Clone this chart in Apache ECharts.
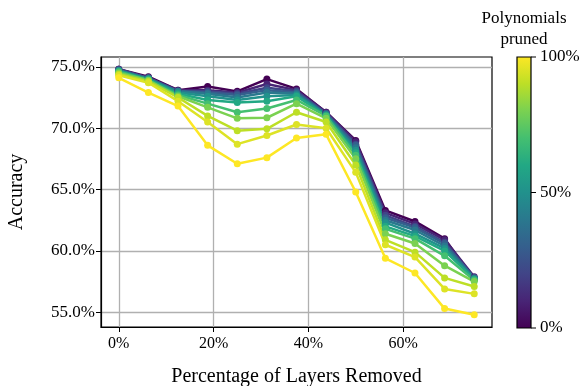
<!DOCTYPE html>
<html>
<head>
<meta charset="utf-8">
<script src="https://cdn.jsdelivr.net/npm/echarts@6/dist/echarts.min.js"></script>
<style>
  html, body { margin: 0; padding: 0; background: #fff; }
  #chart { width: 588px; height: 386px; }
</style>
</head>
<body>
<div id="chart"></div>
<script>
// percentage of layers removed
const layersRemoved = [0, 6.25, 12.5, 18.75, 25, 31.25, 37.5, 43.75, 50, 56.25, 62.5, 68.75, 75]

// fraction of polynomials pruned for each line
const prunedLevels = [0, 0.1, 0.2, 0.3, 0.4, 0.5, 0.6, 0.7, 0.8, 0.9, 0.95, 1.0]

// accuracy (%) per pruning level
const acc0   = [74.8, 74.2, 73.1, 73.4, 73.0, 74.0, 73.2, 71.3, 69.0, 63.3, 62.4, 61.0, 57.7]
const acc10  = [74.8, 74.1, 73.1, 73.1, 72.9, 73.6, 73.1, 71.3, 68.9, 63.1, 62.2, 60.9, 57.9]
const acc20  = [74.8, 74.1, 73.0, 73.0, 72.8, 73.3, 73.0, 71.2, 68.7, 62.9, 62.0, 60.7, 57.8]
const acc30  = [74.7, 74.1, 73.0, 72.9, 72.7, 73.1, 72.9, 71.2, 68.6, 62.7, 61.9, 60.6, 57.8]
const acc40  = [74.7, 74.0, 73.0, 72.8, 72.5, 72.9, 72.8, 71.1, 68.4, 62.5, 61.7, 60.4, 57.8]
const acc50  = [74.7, 74.0, 72.9, 72.6, 72.3, 72.6, 72.7, 71.1, 68.2, 62.3, 61.4, 60.2, 57.7]
const acc60  = [74.6, 74.0, 72.8, 72.3, 72.1, 72.2, 72.6, 71.0, 68.0, 62.0, 61.2, 60.0, 57.7]
const acc70  = [74.6, 73.9, 72.7, 72.0, 71.3, 71.6, 72.3, 71.0, 67.8, 61.8, 61.0, 59.6, 57.6]
const acc80  = [74.5, 73.9, 72.6, 71.7, 70.8, 70.85, 72.0, 70.8, 67.5, 61.4, 60.6, 58.8, 57.5]
const acc90  = [74.4, 73.8, 72.5, 71.0, 69.8, 69.95, 71.3, 70.5, 67.0, 60.9, 59.9, 57.8, 57.1]
const acc95  = [74.3, 73.7, 72.2, 70.5, 68.7, 69.4, 70.3, 70.0, 66.4, 60.5, 59.5, 56.9, 56.5]
const acc100 = [74.1, 72.9, 71.8, 68.6, 67.1, 67.6, 69.2, 69.5, 64.8, 59.4, 58.2, 55.3, 54.8]

const accuracySeries = [acc0, acc10, acc20, acc30, acc40, acc50, acc60, acc70, acc80, acc90, acc95, acc100]

const xTicks = [0, 20, 40, 60]
const yTicks = [55, 60, 65, 70, 75]
const colorbarTicks = ['0%', '50%', '100%']

// viridis colormap, 11 stops
const viridis = ['#440154', '#482475', '#414487', '#355f8d', '#2a788e', '#21918c',
  '#22a884', '#44bf70', '#7ad151', '#bddf26', '#fde725']

function hexToRgb(h) {
  return [parseInt(h.slice(1, 3), 16), parseInt(h.slice(3, 5), 16), parseInt(h.slice(5, 7), 16)]
}

function viridisAt(t) {
  const pos = t * (viridis.length - 1)
  const i = Math.min(Math.floor(pos), viridis.length - 2)
  const f = pos - i
  const a = hexToRgb(viridis[i])
  const b = hexToRgb(viridis[i + 1])
  const c = a.map((v, k) => Math.round(v + (b[k] - v) * f))
  return `rgb(${c[0]},${c[1]},${c[2]})`
}

const FONT = 'Liberation Serif'
const chart = echarts.init(document.getElementById('chart'))

const series = accuracySeries.map((values, idx) => {
  const color = viridisAt(prunedLevels[idx])
  return {
    name: `${Math.round(prunedLevels[idx] * 100)}%`,
    type: 'line',
    data: values.map((v, i) => [layersRemoved[i], v]),
    symbol: 'circle',
    symbolSize: 7,
    lineStyle: { color, width: 2.5 },
    itemStyle: { color },
    animation: false
  }
})

// colorbar drawn with graphic elements
const cbLeft = 517
const cbTop = 57
const cbWidth = 14
const cbHeight = 271
const cbGraphics = [
  {
    type: 'rect',
    shape: { x: cbLeft, y: cbTop, width: cbWidth, height: cbHeight },
    style: {
      fill: new echarts.graphic.LinearGradient(0, 1, 0, 0,
        viridis.map((c, i) => ({ offset: i / (viridis.length - 1), color: c }))),
      stroke: '#000',
      lineWidth: 1.2
    }
  },
  {
    type: 'text',
    style: {
      text: 'Polynomials\npruned',
      x: 524, y: 8,
      align: 'center',
      font: `17px "${FONT}"`,
      lineHeight: 21,
      fill: '#000'
    }
  }
]
colorbarTicks.forEach((label, i) => {
  const y = cbTop + cbHeight - (i / (colorbarTicks.length - 1)) * cbHeight
  cbGraphics.push({
    type: 'line',
    shape: { x1: cbLeft + cbWidth, y1: y, x2: cbLeft + cbWidth + 5, y2: y },
    style: { stroke: '#000', lineWidth: 1 }
  })
  cbGraphics.push({
    type: 'text',
    style: {
      text: label,
      x: cbLeft + cbWidth + 9, y: y,
      verticalAlign: 'middle',
      font: `17px "${FONT}"`,
      fill: '#000'
    }
  })
})

const option = {
  animation: false,
  grid: {
    left: 101,
    right: 96,
    top: 57,
    bottom: 59,
    outerBoundsMode: 'none',
    containLabel: false,
    show: true,
    borderColor: '#000',
    borderWidth: 1.2,
    backgroundColor: 'transparent'
  },
  xAxis: {
    type: 'value',
    min: -3.75,
    max: 78.75,
    name: 'Percentage of Layers Removed',
    nameLocation: 'middle',
    nameGap: 40,
    nameTextStyle: { fontFamily: FONT, fontSize: 20, color: '#000' },
    axisLine: { show: true, onZero: false, lineStyle: { color: '#000', width: 1.2 } },
    axisTick: { show: true, length: 5, customValues: xTicks, lineStyle: { color: '#000' } },
    axisLabel: {
      customValues: xTicks,
      formatter: (v) => `${v}%`,
      fontFamily: FONT, fontSize: 16, color: '#000', margin: 9
    },
    splitLine: { show: true, lineStyle: { color: '#b0b0b0', width: 1.3 } }
  },
  yAxis: {
    type: 'value',
    min: 53.8,
    max: 75.8,
    name: 'Accuracy',
    nameLocation: 'middle',
    nameGap: 74,
    nameTextStyle: { fontFamily: FONT, fontSize: 20, color: '#000' },
    axisLine: { show: true, onZero: false, lineStyle: { color: '#000', width: 1.2 } },
    axisTick: { show: true, length: 5, customValues: yTicks, lineStyle: { color: '#000' } },
    axisLabel: {
      customValues: yTicks,
      formatter: (v) => `${v.toFixed(1)}%`,
      fontFamily: FONT, fontSize: 17, color: '#000', margin: 6
    },
    splitLine: { show: true, lineStyle: { color: '#b0b0b0', width: 1.3 } }
  },
  graphic: cbGraphics,
  series
}

chart.setOption(option)
</script>
</body>
</html>
